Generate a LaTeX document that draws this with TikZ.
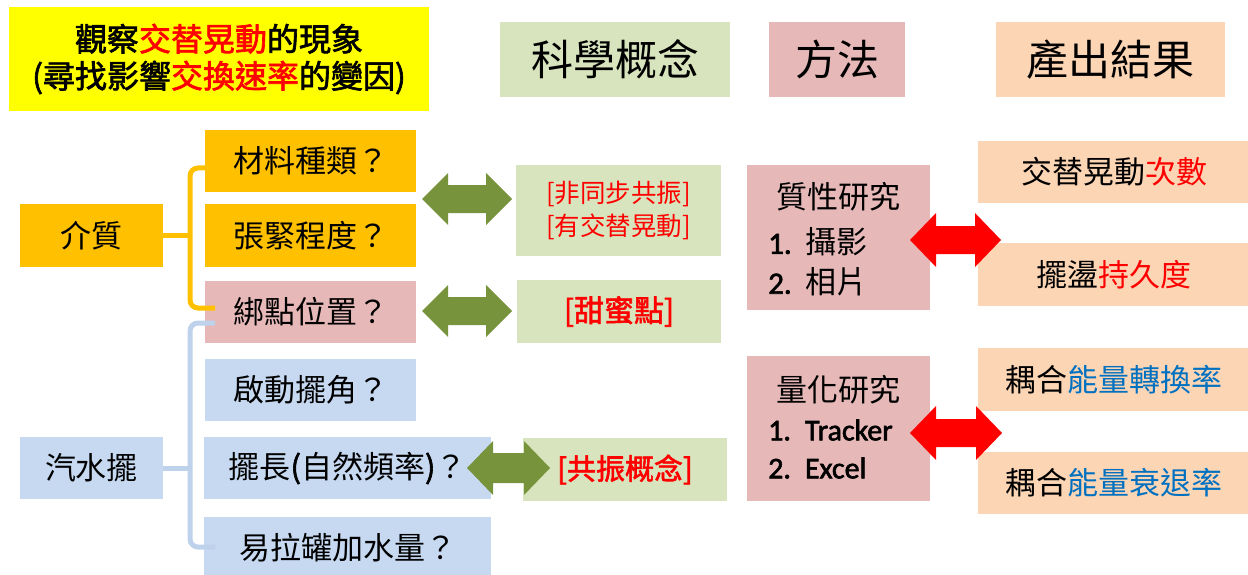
\documentclass[tikz,border=0pt]{standalone}
\usepackage{fontspec}
\setmainfont{Noto Sans CJK TC}[AutoFakeBold=2]
\newfontfamily\lat{Carlito}[AutoFakeBold=2]
\definecolor{yel}{HTML}{FFFF00}
\definecolor{org}{HTML}{FFC000}
\definecolor{pnk}{HTML}{E6B9B8}
\definecolor{lblu}{HTML}{C6D9F1}
\definecolor{lgrn}{HTML}{D7E4BD}
\definecolor{pch}{HTML}{FCD5B5}
\definecolor{agrn}{HTML}{77933C}
\definecolor{bluet}{HTML}{0070C0}
\definecolor{bline}{HTML}{BED2EB}
\newcommand\dblarrow[6]{%
  \fill[#1] (#2,#4) -- ({#2+26},{#4-#5}) -- ({#2+26},{#4-#6}) -- ({#3-26},{#4-#6}) -- ({#3-26},{#4-#5}) -- (#3,#4)
    -- ({#3-26},{#4+#5}) -- ({#3-26},{#4+#6}) -- ({#2+26},{#4+#6}) -- ({#2+26},{#4+#5}) -- cycle;}
\begin{document}
\begin{tikzpicture}[x=1pt,y=-1pt,
  box/.style={rectangle, inner sep=0pt, align=center},
  bt/.style={font=\fontsize{31}{37}\selectfont},
  ht/.style={font=\fontsize{42}{48}\selectfont},
  ybr/.style={draw=org, line width=5pt, rounded corners=8pt},
  bbr/.style={draw=bline, line width=5pt, rounded corners=8pt}]
\useasboundingbox (0,0) rectangle (1248,575);
% header row
\node[box, fill=yel, minimum width=420pt, minimum height=104pt,
  font=\fontsize{32}{37}\selectfont\bfseries] (title) at (219,59)
  {觀察\textcolor{red}{交替晃動}的現象\\(尋找影響\textcolor{red}{交換速率}的變因)};
\node[box, fill=lgrn, minimum width=230pt, minimum height=75pt, ht] (sci) at (615,59.5) {科學概念};
\node[box, fill=pnk, minimum width=136pt, minimum height=75pt, ht] (meth) at (837,59.5) {方法};
\node[box, fill=pch, minimum width=229pt, minimum height=75pt, ht] (outp) at (1110.5,59.5) {產出結果};
% left column
\node[box, fill=org, minimum width=143pt, minimum height=63pt, bt] (medium) at (91.5,235.5) {介質};
\node[box, fill=lblu, minimum width=143pt, minimum height=62pt, bt] (soda) at (91.5,468) {汽水擺};
% factor boxes
\node[box, fill=org, minimum width=211pt, minimum height=62pt, bt] (mat) at (310.5,161) {材料種類？};
\node[box, fill=org, minimum width=211pt, minimum height=63pt, bt] (tens) at (310.5,235.5) {張緊程度？};
\node[box, fill=pnk, minimum width=211pt, minimum height=62pt, bt] (tie) at (310.5,312) {綁點位置？};
\node[box, fill=lblu, minimum width=211pt, minimum height=62pt, bt] (angle) at (310.5,390) {啟動擺角？};
\node[box, fill=lblu, minimum width=287pt, minimum height=62pt, bt] (len) at (347.5,468) {擺長\textbf{(}自然頻率\textbf{)}？};
\node[box, fill=lblu, minimum width=287pt, minimum height=62pt, bt] (can) at (347.5,548) {易拉罐加水量？};
% brackets
\draw[ybr] (medium.east) -- (190,235.5);
\draw[ybr] (205,168) -- (190,168) -- (190,308) -- (215,308);
\draw[bbr] (soda.east) -- (190,468);
\draw[bbr] (215,323) -- (190,323) -- (190,547) -- (215,547);
% concept boxes
\node[box, fill=lgrn, minimum width=205pt, minimum height=91pt, text=red,
  font=\fontsize{25.5}{33}\selectfont] (g1) at (618.5,210.5) {{[}非同步共振{]}\\{[}有交替晃動{]}};
\node[box, fill=lgrn, minimum width=204pt, minimum height=63pt, text=red,
  font=\fontsize{30}{35}\selectfont\bfseries] (g2) at (619,311.5) {{[}甜蜜點{]}};
\node[box, fill=lgrn, minimum width=204pt, minimum height=63pt, text=red,
  font=\fontsize{29}{35}\selectfont\bfseries] (g3) at (625,469.5) {{[}共振概念{]}};
% green arrows
\dblarrow{agrn}{422}{512}{199}{26}{14}
\dblarrow{agrn}{422}{512}{311}{26}{14}
\dblarrow{agrn}{467}{550}{468}{27}{15}
% method boxes
\node[box, fill=pnk, minimum width=183pt, minimum height=145pt] (qual) at (838.5,237.5) {};
\node[bt, inner sep=0pt] (qualt) at (838.5,197) {質性研究};
\node[bt, inner sep=0pt, anchor=west] (q1) at (768,242) {{\lat\bfseries 1.}\hspace{14pt}攝影};
\node[bt, inner sep=0pt, anchor=west] (q2) at (768,282) {{\lat\bfseries 2.}\hspace{14pt}相片};
\node[box, fill=pnk, minimum width=183pt, minimum height=145pt] (quan) at (838.5,428.5) {};
\node[bt, inner sep=0pt] (quant) at (838.5,390) {量化研究};
\node[inner sep=0pt, anchor=west, font=\fontsize{30}{35}\selectfont\lat\bfseries] (n1) at (768,430) {1.\hspace{14pt}Tracker};
\node[inner sep=0pt, anchor=west, font=\fontsize{30}{35}\selectfont\lat\bfseries] (n2) at (768,468) {2.\hspace{14pt}Excel};
% output boxes
\node[box, fill=pch, minimum width=272pt, minimum height=62pt, bt] (o1) at (1114,172) {交替晃動\textcolor{red}{次數}};
\node[box, fill=pch, minimum width=272pt, minimum height=63pt, bt] (o2) at (1114,274.5) {擺盪\textcolor{red}{持久度}};
\node[box, fill=pch, minimum width=272pt, minimum height=63pt, bt] (o3) at (1114,379.5) {耦合\textcolor{bluet}{能量轉換率}};
\node[box, fill=pch, minimum width=272pt, minimum height=62pt, bt] (o4) at (1114,482.5) {耦合\textcolor{bluet}{能量衰退率}};
% red arrows
\dblarrow{red}{910}{1001}{240}{27}{14}
\dblarrow{red}{910}{1002}{433}{27}{14}
\end{tikzpicture}
\end{document}
